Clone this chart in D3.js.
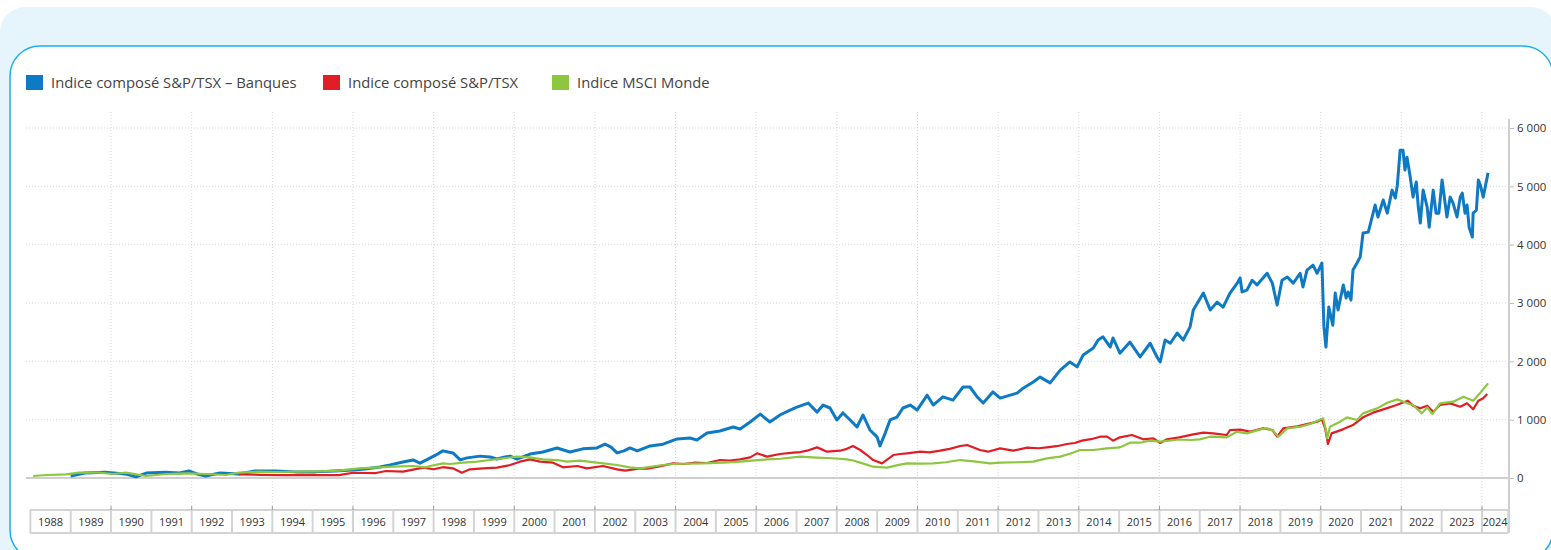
<!DOCTYPE html>
<html>
<head>
<meta charset="utf-8">
<script src="https://cdn.jsdelivr.net/npm/d3@7"></script>
<style>
  body { margin: 0; background: #fff; }
  svg text { font-family: "Open Sans", sans-serif; }
</style>
</head>
<body>
<div id="chartWrap"></div>
<script>
// legend / series names
const seriesNames = ['Indice composé S&P/TSX – Banques', 'Indice composé S&P/TSX', 'Indice MSCI Monde'];
const seriesColors = ['#0d7ac3', '#e11d25', '#8dc63f'];

// x axis cells (one per year) and y ticks
const yearLabels = d3.range(1988, 2025);
const yTicks = [0, 1000, 2000, 3000, 4000, 5000, 6000];

// [decimal year, value]
const bankSeries = [
  [1989.0, 35], [1989.35, 85], [1989.85, 100], [1990.35, 70], [1990.62, 20], [1990.87, 85], [1991.34, 100],
  [1991.7, 85], [1991.93, 120], [1992.13, 70], [1992.35, 35], [1992.7, 85], [1993.17, 70], [1993.57, 120],
  [1994.07, 120], [1994.57, 105], [1995.07, 105], [1995.55, 120], [1996.0, 137], [1996.3, 155], [1996.67, 190],
  [1996.92, 225], [1997.24, 275], [1997.49, 310], [1997.66, 255], [1997.86, 325], [1998.06, 395], [1998.23, 465],
  [1998.36, 445], [1998.48, 430], [1998.66, 310], [1998.83, 345], [1999.15, 375], [1999.4, 360], [1999.57, 325],
  [1999.77, 360], [1999.9, 375], [2000.07, 325], [2000.39, 410], [2000.71, 445], [2001.06, 515], [2001.38, 445],
  [2001.7, 500], [2002.05, 515], [2002.25, 580], [2002.4, 530], [2002.55, 430], [2002.72, 465], [2002.87, 515],
  [2003.05, 465], [2003.37, 550], [2003.69, 580], [2004.04, 670], [2004.36, 685], [2004.53, 650], [2004.78, 770],
  [2005.1, 805], [2005.43, 875], [2005.6, 840], [2005.85, 960], [2006.1, 1095], [2006.34, 960], [2006.59, 1080],
  [2006.84, 1165], [2007.01, 1215], [2007.29, 1285], [2007.51, 1130], [2007.66, 1250], [2007.83, 1200],
  [2008.0, 995], [2008.15, 1115], [2008.33, 995], [2008.5, 875], [2008.65, 1080], [2008.82, 823], [2009.0, 700],
  [2009.07, 550], [2009.2, 770], [2009.32, 995], [2009.49, 1045], [2009.64, 1200], [2009.82, 1250],
  [2009.99, 1165], [2010.24, 1420], [2010.39, 1250], [2010.63, 1390], [2010.88, 1335], [2011.13, 1560],
  [2011.3, 1560], [2011.48, 1390], [2011.63, 1285], [2011.87, 1475], [2012.05, 1370], [2012.3, 1420],
  [2012.47, 1455], [2012.62, 1540], [2012.87, 1645], [2013.04, 1730], [2013.29, 1630], [2013.54, 1850],
  [2013.78, 1990], [2013.96, 1905], [2014.11, 2110], [2014.36, 2230], [2014.48, 2365], [2014.6, 2420],
  [2014.78, 2245], [2014.85, 2400], [2015.02, 2140], [2015.27, 2330], [2015.52, 2075], [2015.77, 2310],
  [2015.94, 2075], [2016.02, 1990], [2016.14, 2365], [2016.27, 2310], [2016.44, 2485], [2016.59, 2365],
  [2016.76, 2590], [2016.84, 2880], [2017.09, 3170], [2017.26, 2880], [2017.43, 3015], [2017.58, 2930],
  [2017.75, 3170], [2017.93, 3340], [2018.0, 3430], [2018.05, 3190], [2018.17, 3220], [2018.3, 3390],
  [2018.42, 3310], [2018.67, 3510], [2018.8, 3340], [2018.92, 2965], [2019.04, 3390], [2019.17, 3445],
  [2019.32, 3340], [2019.49, 3510], [2019.56, 3275], [2019.66, 3565], [2019.81, 3650], [2019.91, 3510],
  [2020.03, 3685], [2020.08, 2590], [2020.13, 2245], [2020.2, 2930], [2020.3, 2620], [2020.36, 3170],
  [2020.43, 2880], [2020.56, 3310], [2020.63, 3085], [2020.68, 3190], [2020.75, 3050], [2020.8, 3565],
  [2020.9, 3685], [2020.98, 3790], [2021.05, 4200], [2021.18, 4215], [2021.35, 4680], [2021.42, 4475],
  [2021.55, 4765], [2021.65, 4540], [2021.77, 4935], [2021.85, 4800], [2021.9, 5020], [2021.97, 5620],
  [2022.04, 5620], [2022.09, 5280], [2022.14, 5500], [2022.22, 5160], [2022.29, 4815], [2022.37, 5075],
  [2022.42, 4645], [2022.47, 4370], [2022.54, 4935], [2022.64, 4645], [2022.69, 4300], [2022.79, 4935],
  [2022.86, 4540], [2022.93, 4540], [2023.01, 5110], [2023.13, 4475], [2023.21, 4815], [2023.28, 4715],
  [2023.38, 4475], [2023.46, 4815], [2023.51, 4885], [2023.58, 4540], [2023.63, 4680], [2023.68, 4300],
  [2023.76, 4130], [2023.78, 4540], [2023.86, 4590], [2023.91, 5110], [2023.96, 5020], [2024.03, 4815],
  [2024.15, 5230],
];

const tsxSeries = [
  [1993.17, 63], [1993.7, 55], [1994.3, 50], [1994.9, 48], [1995.65, 50], [1996.0, 90], [1996.57, 85],
  [1996.82, 120], [1997.24, 110], [1997.74, 177], [1998.0, 150], [1998.23, 185], [1998.48, 166], [1998.7, 91],
  [1998.9, 149], [1999.23, 166], [1999.57, 177], [1999.9, 223], [2000.14, 280], [2000.39, 320], [2000.64, 280],
  [2000.96, 263], [2001.21, 183], [2001.56, 206], [2001.8, 166], [2002.2, 206], [2002.55, 149], [2002.75, 126],
  [2003.12, 166], [2003.3, 160], [2003.6, 200], [2003.94, 251], [2004.2, 240], [2004.45, 262], [2004.78, 257],
  [2005.1, 308], [2005.35, 300], [2005.6, 320], [2005.85, 354], [2006.02, 423], [2006.27, 366], [2006.59, 411],
  [2006.92, 434], [2007.1, 445], [2007.26, 468], [2007.51, 525], [2007.76, 451], [2008.08, 468], [2008.25, 500],
  [2008.4, 548], [2008.58, 480], [2008.75, 394], [2008.9, 308], [2009.12, 251], [2009.4, 394], [2009.57, 411],
  [2009.74, 423], [2010.07, 451], [2010.3, 440], [2010.56, 468], [2010.8, 500], [2011.06, 548], [2011.23, 565],
  [2011.55, 480], [2011.75, 451], [2012.05, 508], [2012.37, 468], [2012.72, 520], [2013.0, 510], [2013.21, 525],
  [2013.45, 545], [2013.71, 583], [2013.9, 600], [2014.08, 640], [2014.3, 665], [2014.53, 708], [2014.7, 708],
  [2014.85, 640], [2015.02, 697], [2015.32, 737], [2015.6, 663], [2015.85, 680], [2016.02, 600], [2016.19, 663],
  [2016.49, 697], [2016.84, 748], [2017.09, 777], [2017.33, 765], [2017.67, 737], [2017.75, 823],
  [2018.0, 830], [2018.25, 794], [2018.57, 851], [2018.8, 823], [2018.92, 708], [2019.07, 851], [2019.42, 885],
  [2019.66, 925], [2019.74, 937], [2019.91, 966], [2020.03, 1006], [2020.11, 851], [2020.18, 583], [2020.27, 765],
  [2020.55, 834], [2020.8, 908], [2021.05, 1040], [2021.3, 1120], [2021.63, 1194], [2021.88, 1251], [2022.16, 1325],
  [2022.29, 1240], [2022.47, 1194], [2022.64, 1240], [2022.79, 1137], [2022.96, 1251], [2023.21, 1280],
  [2023.46, 1222], [2023.63, 1280], [2023.78, 1177], [2023.91, 1325], [2024.03, 1366], [2024.13, 1440],
];

const msciSeries = [
  [1988.07, 34], [1988.4, 51], [1988.88, 63], [1989.2, 91], [1989.7, 91], [1990.05, 69], [1990.37, 91],
  [1990.87, 34], [1991.36, 69], [1991.86, 80], [1992.36, 69], [1992.85, 51], [1993.17, 91], [1993.67, 108],
  [1994.17, 103], [1994.66, 108], [1995.16, 114], [1995.65, 126], [1996.15, 166], [1996.65, 183], [1997.0, 194],
  [1997.5, 206], [1997.8, 183], [1997.91, 206], [1998.23, 251], [1998.4, 240], [1998.73, 263], [1999.08, 280],
  [1999.4, 308], [1999.72, 337], [2000.07, 366], [2000.39, 354], [2000.71, 320], [2001.06, 308], [2001.31, 280],
  [2001.63, 297], [2002.05, 263], [2002.55, 223], [2002.87, 183], [2003.12, 166], [2003.69, 223], [2003.94, 240],
  [2004.68, 251], [2005.18, 262], [2005.6, 280], [2006.27, 320], [2006.6, 330], [2007.09, 366], [2007.5, 350],
  [2007.76, 343], [2008.08, 330], [2008.25, 320], [2008.4, 300], [2008.6, 260], [2008.9, 194], [2009.24, 177],
  [2009.57, 230], [2009.74, 251], [2010.07, 245], [2010.39, 251], [2010.7, 270], [2011.06, 308], [2011.4, 285],
  [2011.8, 251], [2012.05, 263], [2012.5, 270], [2012.87, 280], [2013.21, 337], [2013.54, 366], [2013.8, 420],
  [2014.03, 480], [2014.36, 480], [2014.7, 508], [2015.02, 525], [2015.27, 605], [2015.52, 605], [2015.77, 640],
  [2016.02, 623], [2016.49, 660], [2016.77, 651], [2017.0, 663],
  [2017.26, 708], [2017.67, 697], [2017.92, 794], [2018.17, 765], [2018.5, 834], [2018.67, 851], [2018.82, 811],
  [2018.95, 708], [2019.17, 851], [2019.5, 880], [2019.74, 925], [2020.06, 1023], [2020.13, 823], [2020.16, 680],
  [2020.23, 880], [2020.48, 966], [2020.65, 1040], [2020.9, 994], [2021.05, 1108], [2021.4, 1194], [2021.65, 1291],
  [2021.9, 1348], [2022.15, 1280], [2022.29, 1251], [2022.51, 1108], [2022.64, 1211], [2022.77, 1097],
  [2022.96, 1280], [2023.29, 1308], [2023.54, 1394], [2023.78, 1325], [2023.96, 1463], [2024.15, 1623],
];

const W = 1551;
const H = 550;
const plotLeft = 26;
const plotRight = 1508;
const bandTop = 510;
const bandBottom = 533;

const svg = d3.select('#chartWrap')
  .append('svg')
  .attr('width', W)
  .attr('height', H);

// light blue frame behind + white card with cyan border
svg.append('rect')
  .attr('x', 0).attr('y', 7)
  .attr('width', 1556).attr('height', 600)
  .attr('rx', 25)
  .attr('fill', '#e6f5fc');
svg.append('rect')
  .attr('x', 10).attr('y', 46)
  .attr('width', 1543).attr('height', 514)
  .attr('rx', 30)
  .attr('fill', '#fff')
  .attr('stroke', '#1cb0ea')
  .attr('stroke-width', 1.5);

const x = d3.scaleLinear().domain([1988, 2024]).range([30.4, 1482]);
const y = d3.scaleLinear().domain([0, 6000]).range([478, 128]);
const fmt = d3.formatLocale({ decimal: ',', thousands: ' ', grouping: [3], currency: ['', ' $'] }).format(',');

// dotted grid
svg.append('g')
  .selectAll('line')
  .data(yTicks.filter((d) => d > 0))
  .enter()
  .append('line')
  .attr('x1', plotLeft).attr('x2', plotRight)
  .attr('y1', (d) => y(d)).attr('y2', (d) => y(d))
  .attr('stroke', '#d9d9d9')
  .attr('stroke-dasharray', '1,2');
svg.append('g')
  .selectAll('line')
  .data(yearLabels.filter((d) => d % 2 === 0 && d > 1988))
  .enter()
  .append('line')
  .attr('x1', (d) => x(d)).attr('x2', (d) => x(d))
  .attr('y1', 112).attr('y2', bandTop)
  .attr('stroke', '#d9d9d9')
  .attr('stroke-dasharray', '1,2');

// zero line
svg.append('line')
  .attr('x1', plotLeft).attr('x2', plotRight)
  .attr('y1', y(0)).attr('y2', y(0))
  .attr('stroke', '#cfcfcf')
  .attr('stroke-width', 2);

// right axis
svg.append('line')
  .attr('x1', 1509).attr('x2', 1509)
  .attr('y1', 119).attr('y2', bandBottom)
  .attr('stroke', '#cfcfcf')
  .attr('stroke-width', 2);
const yAxis = svg.append('g').attr('transform', 'translate(1510,0)')
  .call(d3.axisRight(y).tickValues(yTicks).tickSize(4).tickPadding(3).tickFormat(fmt));
yAxis.select('.domain').remove();
yAxis.selectAll('line').attr('stroke', '#bbb');
yAxis.selectAll('text')
  .style('font-size', '11.5px')
  .attr('fill', '#333');

// x axis band with one cell per year
const band = svg.append('g');
band.append('line')
  .attr('x1', 30).attr('x2', plotRight)
  .attr('y1', bandTop).attr('y2', bandTop)
  .attr('stroke', '#d4d4d4').attr('stroke-width', 2);
band.append('line')
  .attr('x1', 30).attr('x2', plotRight)
  .attr('y1', bandBottom).attr('y2', bandBottom)
  .attr('stroke', '#d4d4d4').attr('stroke-width', 2);
band.selectAll('.sep')
  .data(yearLabels.concat([2024.65]))
  .enter()
  .append('line')
  .attr('class', 'sep')
  .attr('x1', (d) => x(d)).attr('x2', (d) => x(d))
  .attr('y1', bandTop).attr('y2', bandBottom)
  .attr('stroke', '#d4d4d4').attr('stroke-width', 2);
band.selectAll('.tk')
  .data(yearLabels.filter((d) => d % 2 === 0 && d > 1988))
  .enter()
  .append('line')
  .attr('class', 'tk')
  .attr('x1', (d) => x(d)).attr('x2', (d) => x(d))
  .attr('y1', bandTop - 4).attr('y2', bandTop)
  .attr('stroke', '#999');
band.selectAll('text')
  .data(yearLabels)
  .enter()
  .append('text')
  .attr('x', (d) => (x(d) + Math.min(x(d + 1), plotRight)) / 2)
  .attr('y', 526)
  .attr('text-anchor', 'middle')
  .style('font-size', '11px')
  .attr('fill', '#333')
  .text((d) => d);

// lines
const line = d3.line()
  .x((d) => x(d[0]))
  .y((d) => y(d[1]));
[bankSeries, tsxSeries, msciSeries].forEach((s, i) => {
  svg.append('path')
    .datum(s)
    .attr('d', line)
    .attr('fill', 'none')
    .attr('stroke', seriesColors[i])
    .attr('stroke-width', i === 0 ? 3 : 2.2)
    .attr('stroke-linejoin', 'round');
});

// legend
const legendX = [26, 323, 552];
const legend = svg.append('g');
seriesNames.forEach((name, i) => {
  legend.append('rect')
    .attr('x', legendX[i]).attr('y', 75)
    .attr('width', 17).attr('height', 15)
    .attr('fill', seriesColors[i]);
  legend.append('text')
    .attr('x', legendX[i] + 25).attr('y', 88)
    .style('font-size', '14.8px')
    .attr('fill', '#444')
    .text(name);
});
</script>
</body>
</html>
